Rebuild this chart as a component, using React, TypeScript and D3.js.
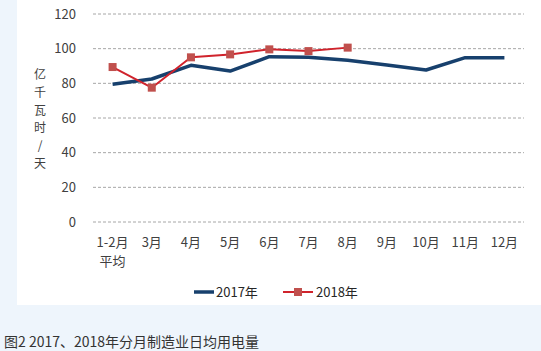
import React from 'react';
import * as d3 from 'd3';

const months = ['1-2月', '3月', '4月', '5月', '6月', '7月', '8月', '9月', '10月', '11月', '12月'];
const values2017 = [79.5, 82.5, 90.4, 87.1, 95.4, 95, 93.3, 90.6, 87.7, 94.8, 94.8];
const values2018 = [89.4, 77.5, 95, 96.7, 99.6, 98.6, 100.6];
const yTicks = [0, 20, 40, 60, 80, 100, 120];
const yTitle = ['亿', '千', '瓦', '时', '/', '天'];

const W = 541;
const H = 351;
const font = '"Noto Sans CJK SC", "Noto Sans", sans-serif';

export default function App() {
  const x = d3.scaleBand<string>().domain(months).range([93, 524]);
  const y = d3.scaleLinear().domain([0, 120]).range([222, 14]);
  const cx = (m: string) => (x(m) || 0) + x.bandwidth() / 2;

  const line = d3.line<number>()
    .x((_, i) => cx(months[i]))
    .y(d => y(d));

  return (
    <div style={{ position: 'absolute', left: 0, top: 0 }}>
      <svg width={W} height={H} style={{ display: 'block', fontFamily: font }}>
        <rect x={0} y={0} width={W} height={H} fill="#eef5fc" />
        <rect x={17} y={0} width={W - 17} height={305} fill="#ffffff" />

        {/* grid + y ticks */}
        {yTicks.map(t => (
          <g key={t}>
            <line x1={93} x2={524} y1={y(t)} y2={y(t)} stroke="#a6a6a6" strokeWidth={1} strokeDasharray="3,2" />
            <text x={76} y={y(t)} dy="0.35em" textAnchor="end" fontSize={13} fill="#404040">{t}</text>
          </g>
        ))}

        {/* y title, one char per row */}
        {yTitle.map((c, i) => (
          <text key={i} x={40} y={75 + i * 17.7} dy="0.35em" textAnchor="middle" fontSize={12} fill="#404040">{c}</text>
        ))}

        {/* x labels */}
        {months.map(m => (
          <text key={m} x={cx(m)} y={242} dy="0.35em" textAnchor="middle" fontSize={13} fill="#404040">{m}</text>
        ))}
        <text x={cx(months[0])} y={261} dy="0.35em" textAnchor="middle" fontSize={13} fill="#404040">平均</text>

        {/* series */}
        <path d={line(values2017) || ''} fill="none" stroke="#17406d" strokeWidth={3.5} strokeLinejoin="round" />
        <path d={line(values2018) || ''} fill="none" stroke="#d0232c" strokeWidth={2} strokeLinejoin="round" />
        {values2018.map((v, i) => (
          <rect key={i} x={cx(months[i]) - 4} y={y(v) - 4} width={8} height={8} fill="#c0504d" />
        ))}

        {/* legend */}
        <line x1={194} x2={214} y1={292} y2={292} stroke="#17406d" strokeWidth={3.5} />
        <text x={216} y={292} dy="0.35em" fontSize={13} fill="#262626">2017年</text>
        <line x1={283} x2={313} y1={292} y2={292} stroke="#d0232c" strokeWidth={2} />
        <rect x={294} y={288} width={8} height={8} fill="#c0504d" />
        <text x={316} y={292} dy="0.35em" fontSize={13} fill="#262626">2018年</text>

        {/* caption */}
        <text x={4} y={342} dy="0.35em" fontSize={14} fill="#333333">图2 2017、2018年分月制造业日均用电量</text>
      </svg>
    </div>
  );
}
